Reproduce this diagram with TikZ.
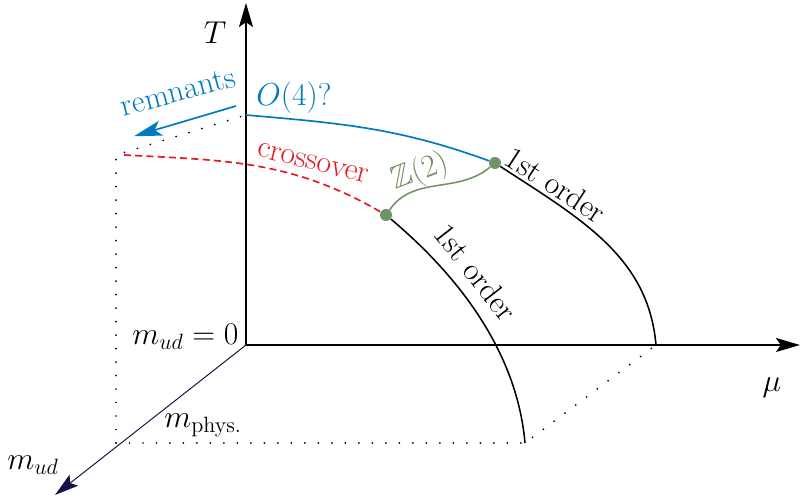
\RequirePackage{fix-cm}
\documentclass[tikz,border=0pt]{standalone}
\usepackage{amssymb}
\usetikzlibrary{arrows.meta, positioning}
\definecolor{remblue}{RGB}{0,122,192}
\definecolor{crossred}{RGB}{228,26,36}
\definecolor{ztwogreen}{RGB}{112,146,100}
\definecolor{mnavy}{RGB}{20,20,70}

\begin{document}
\begin{tikzpicture}[font=\fontsize{22.5}{27}\selectfont]
        \tikzstyle{axis}=[-{Stealth[length=0.6cm, width=0.35cm, inset=0.12cm]}, line width=0.9pt];
        \tikzstyle{order}=[line width=1.1pt];
        \tikzstyle{guide}=[line width=1.4pt, line cap=round, dash pattern=on 0pt off 9.6pt];
        \tikzstyle{crit}=[circle, fill=ztwogreen, inner sep=0pt, minimum size=0.3cm];

        \useasboundingbox (-6.15,-3.875) rectangle (13.875,8.625);

        \coordinate (origin) at (0,0);
        \coordinate (ttop) at (0,8.55);
        \coordinate (muend) at (13.85,0);
        \coordinate (mend) at (-4.775,-3.75);
        \coordinate (phys) at (-3.25,-2.45);
        \coordinate (back) at (-3.25,4.75);
        \coordinate (cross) at (-3.05,4.75);
        \coordinate (ofour) at (0,5.75);
        \coordinate (mubot) at (6.975,-2.45);
        \coordinate (muzero) at (10.25,0);
        \coordinate (remfrom) at (-0.25,5.975);
        \coordinate (remto) at (-2.8,5.22);

        \draw[guide] (phys) -- (back) -- (ofour);
        \draw[guide] (phys) -- (mubot) -- (muzero);

        \draw[axis] (origin) -- (ttop);
        \draw[axis] (origin) -- (muend);
        \draw[axis, mnavy, line width=0.7pt] (origin) -- (mend);

        \node[crit] (tri) at (6.225,4.55) {};
        \node[crit] (zpt) at (3.5,3.25) {};

        \draw[remblue, line width=1.2pt] (ofour) to[out=-5, in=160] (tri);
        \draw[crossred, line width=1.2pt, dash pattern=on 5pt off 3pt] (cross) to[out=-3, in=150] (zpt);
        \draw[ztwogreen, line width=1.1pt] (zpt) to[out=55, in=-140] (tri);
        \draw[order] (tri) .. controls +(-33:2.6) and +(95:2.2) .. (muzero);
        \draw[order] (zpt) .. controls +(-40:2.5) and +(95:2.2) .. (mubot);
        \draw[remblue, line width=1.2pt, -{Stealth[length=0.7cm, width=0.38cm, inset=0.16cm]}] (remfrom) -- (remto);

        \node (tlabel) at (-0.775,7.8) {$T$};
        \node (mulabel) at (13.15,-1.075) {$\mu$};
        \node (mlabel) at (-5.325,-3.0) {$m_{ud}$};
        \node[anchor=base east, inner sep=0pt] (mzero) at (-0.18,0) {$m_{ud}=0$};
        \node (mphys) at (-1.075,-2.0) {$m_{\mathrm{phys.}}$};
        \node[remblue] (ofourlabel) at (1.2,6.175) {$O(4)$?};
        \node[remblue, rotate=15] (remlabel) at (-1.7,6.325) {remnants};
        \node[crossred, rotate=-14] (crosslabel) at (1.675,4.55) {crossover};
        \node[ztwogreen, rotate=21] (zlabel) at (4.35,4.325) {$\mathbb{Z}(2)$};
        \node[rotate=-33] (orderup) at (7.75,4.0) {1st order};
        \node[rotate=-52] (orderlow) at (5.75,1.825) {1st order};
    \end{tikzpicture}
\end{document}
